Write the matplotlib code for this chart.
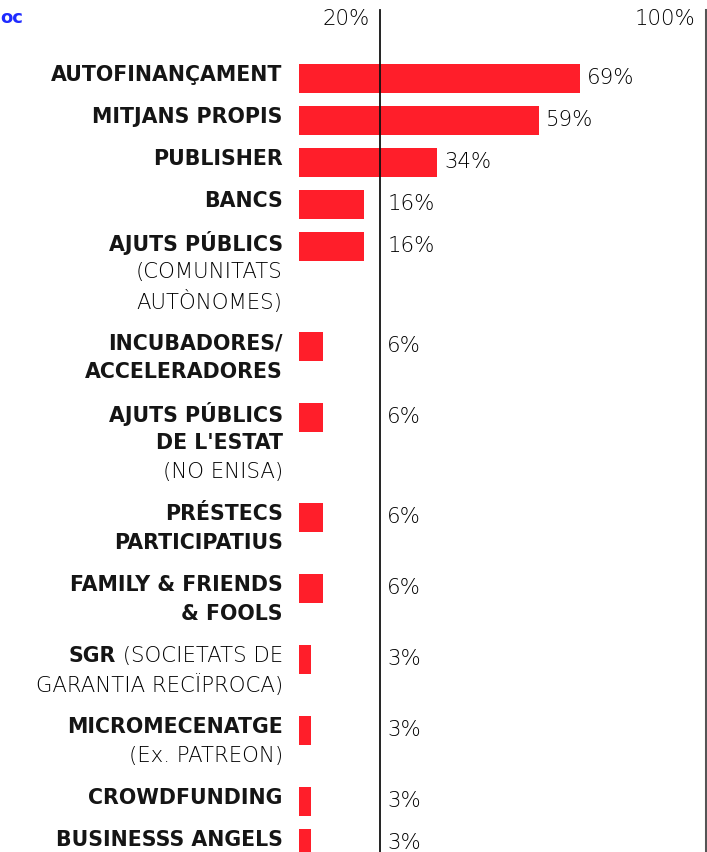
import matplotlib.pyplot as plt
from matplotlib.transforms import offset_copy

# data: one entry per bar, each label as (bold lines, light lines)
BOLD_LINES = [
    ["AUTOFINANÇAMENT"],
    ["MITJANS PROPIS"],
    ["PUBLISHER"],
    ["BANCS"],
    ["AJUTS PÚBLICS"],
    ["INCUBADORES/", "ACCELERADORES"],
    ["AJUTS PÚBLICS", "DE L'ESTAT"],
    ["PRÉSTECS", "PARTICIPATIUS"],
    ["FAMILY & FRIENDS", "& FOOLS"],
    ["SGR"],
    ["MICROMECENATGE"],
    ["CROWDFUNDING"],
    ["BUSINESSS ANGELS"],
]
LIGHT_LINES = [
    [],
    [],
    [],
    [],
    ["(COMUNITATS", "AUTÒNOMES)"],
    [],
    ["(NO ENISA)"],
    [],
    [],
    [" (SOCIETATS DE", "GARANTIA RECÏPROCA)"],
    ["(Ex. PATREON)"],
    [],
    [],
]
# SGR's light text continues on the same line as the bold part
SAME_LINE = [False] * 9 + [True] + [False] * 3
VALUES = [69, 59, 34, 16, 16, 6, 6, 6, 6, 3, 3, 3, 3]
REF_LINES = [20, 100]

W, H = 707, 853
DPI = 100
PX_PER_PCT = 4.07
X0_PX = 299
LINE_H = 29
ROW_PAD = 13

RED = "#ff1e2a"
DARK = "#151515"
BOLD_FONT = dict(family="DejaVu Sans", weight="bold", size=14.8, color=DARK)
LIGHT_FONT = dict(family="DejaVu Sans", weight="light", size=15.3, color="#000000")

fig = plt.figure(figsize=(W / DPI, H / DPI), dpi=DPI)
ax = fig.add_axes([0, 0, 1, 1])
ax.set_xlim(-X0_PX / PX_PER_PCT, (W - X0_PX) / PX_PER_PCT)
ax.set_ylim(H, 0)
ax.axis("off")

# row positions follow the number of text lines in each label
ys = []
y = 79
for bold, light, same in zip(BOLD_LINES, LIGHT_LINES, SAME_LINE):
    ys.append(y)
    n = len(bold) + len(light) - (1 if same else 0)
    y += n * LINE_H + ROW_PAD

ax.barh(ys, VALUES, left=0, height=LINE_H, color=RED, zorder=2)

ax.plot([REF_LINES[0]] * 2, [11, H], color="#111111", lw=1.3, zorder=3)
ax.plot([REF_LINES[1]] * 2, [11, H], color="#555555", lw=2.2, zorder=3)
ax.text(REF_LINES[0] - 2.5, 19, f"{REF_LINES[0]}%", ha="right", va="center", **LIGHT_FONT)
ax.text(REF_LINES[1] - 2.7, 19, f"{REF_LINES[1]}%", ha="right", va="center", **LIGHT_FONT)
ax.text(-73.5, 18, "oc", ha="left", va="center", family="DejaVu Sans",
        weight="bold", size=13, color="#1f2bff")

label_x = -4.0
fig.canvas.draw()
renderer = fig.canvas.get_renderer()
for yc, bold, light, same, v in zip(ys, BOLD_LINES, LIGHT_LINES, SAME_LINE, VALUES):
    ty = yc - 4
    lines = [(t, BOLD_FONT) for t in bold] + [(t, LIGHT_FONT) for t in light]
    if same:
        # light part right-aligned, bold part placed just before it
        lt = ax.text(label_x, ty, light[0], ha="right", va="center", **LIGHT_FONT)
        bb = lt.get_window_extent(renderer)
        bx = ax.transData.inverted().transform((bb.x0, 0))[0]
        ax.text(bx, ty, bold[0], ha="right", va="center", **BOLD_FONT)
        lines = [(t, LIGHT_FONT) for t in light[1:]]
        ty += LINE_H
    for t, font in lines:
        ax.text(label_x, ty, t, ha="right", va="center", **font)
        ty += LINE_H

    vx = max(v, REF_LINES[0])
    trans = offset_copy(ax.transData, fig=fig, x=5, y=0, units="points")
    ax.text(vx, yc - 1, f"{v}%", ha="left", va="center", transform=trans, **LIGHT_FONT)

fig.savefig("out.png", dpi=DPI)
